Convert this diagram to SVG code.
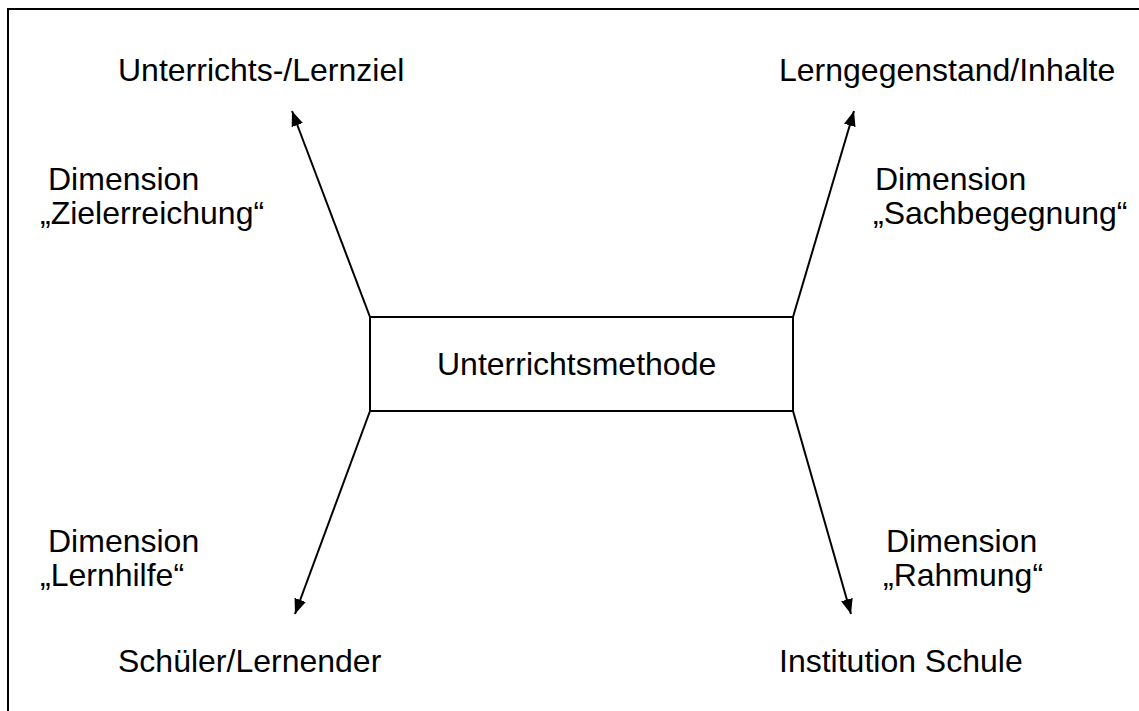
<svg xmlns="http://www.w3.org/2000/svg" width="1139" height="711" viewBox="0 0 1139 711">
  <style>
    text { font-family: "Liberation Sans", Arial, sans-serif; font-size: 32px; fill: #000; }
    .frame { fill: none; stroke: #000; stroke-width: 2; }
    .box { fill: #fff; stroke: #000; stroke-width: 2; }
    .conn { stroke: #000; stroke-width: 2; fill: none; marker-end: url(#arrow); }
  </style>
  <defs>
    <marker id="arrow" markerUnits="userSpaceOnUse" markerWidth="16" markerHeight="14" refX="15" refY="6" orient="auto">
      <path d="M0,0 L15,6 L0,12 Z" fill="#000"/>
    </marker>
  </defs>
  <rect width="1139" height="711" fill="#fff"/>
  <path class="frame" d="M8,711 L8,9 L1139,9"/>

  <g id="connectors">
    <line class="conn" x1="370" y1="317" x2="292" y2="111"/>
    <line class="conn" x1="793" y1="317" x2="854" y2="111"/>
    <line class="conn" x1="370" y1="411" x2="295" y2="614"/>
    <line class="conn" x1="793" y1="411" x2="851" y2="614"/>
  </g>

  <g id="methode">
    <rect class="box" x="370" y="317" width="423" height="94"/>
    <text x="437" y="375">Unterrichtsmethode</text>
  </g>
  <g id="lernziel">
    <text x="118" y="81">Unterrichts-/Lernziel</text>
  </g>
  <g id="lerngegenstand">
    <text x="779" y="81">Lerngegenstand/Inhalte</text>
  </g>
  <g id="schueler">
    <text x="118" y="672">Schüler/Lernender</text>
  </g>
  <g id="institution">
    <text x="779" y="672">Institution Schule</text>
  </g>
  <g id="dim-ziel">
    <text x="48" y="190">Dimension</text>
    <text x="40" y="224">„Zielerreichung“</text>
  </g>
  <g id="dim-sach">
    <text x="875" y="190">Dimension</text>
    <text x="873" y="224">„Sachbegegnung“</text>
  </g>
  <g id="dim-lernhilfe">
    <text x="48" y="552">Dimension</text>
    <text x="40" y="586">„Lernhilfe“</text>
  </g>
  <g id="dim-rahmung">
    <text x="886" y="552">Dimension</text>
    <text x="883" y="586">„Rahmung“</text>
  </g>
</svg>
